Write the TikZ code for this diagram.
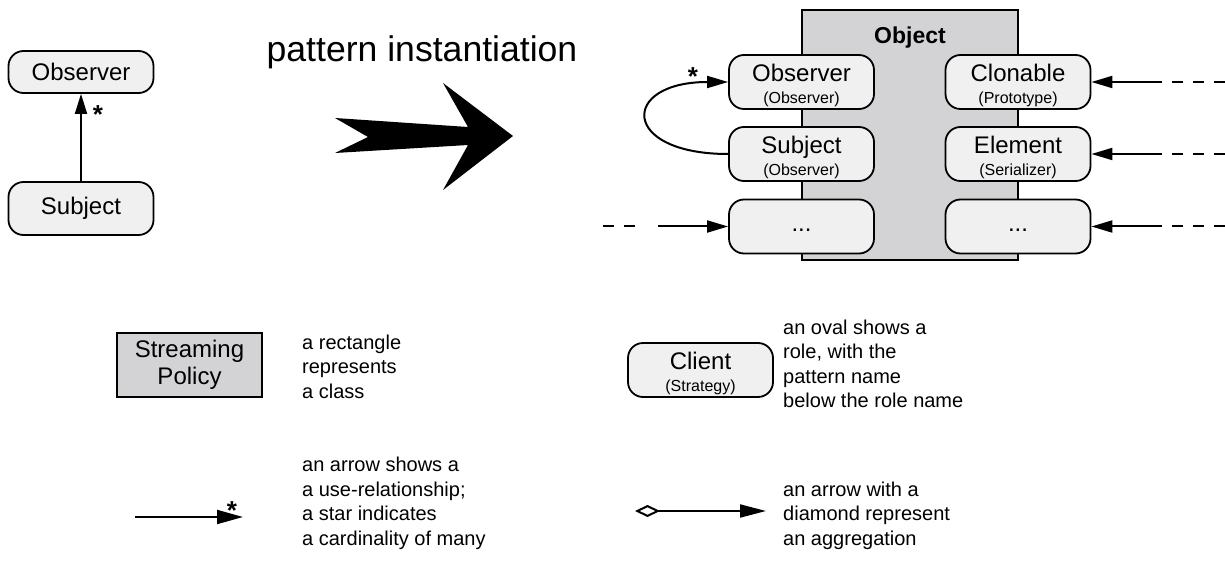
\documentclass[tikz,border=0pt]{standalone}
\usepackage{fontspec}
\setmainfont{Liberation Sans}
\usetikzlibrary{arrows.meta}
\definecolor{rolefill}{RGB}{240,240,241}
\definecolor{classfill}{RGB}{211,211,213}
\tikzset{
  role/.style={draw, line width=1.8pt, rounded corners=15pt, fill=rolefill,
    minimum width=145pt, minimum height=54pt, align=center, inner sep=0pt,
    font=\fontsize{24}{22}\selectfont},
  classbox/.style={draw, line width=1.8pt, fill=classfill, inner sep=0pt},
  conn/.style={line width=2pt, -{Triangle[length=21pt,width=12pt]}},
  dashline/.style={line width=2pt, dash pattern=on 11pt off 10pt},
  legend/.style={align=left, anchor=west, inner sep=0pt,
    font=\fontsize{20}{24.5}\selectfont},
  starlbl/.style={anchor=base, inner sep=0pt, font=\fontsize{26}{26}\selectfont\bfseries},
}
\newcommand{\subl}[1]{{\fontsize{16}{22}\selectfont #1}}
\newcommand{\topstrut}{\rule{0pt}{23.4pt}}
\newcommand{\etcdots}{\raisebox{-5pt}[0pt][0pt]{...}}
\begin{document}
\begin{tikzpicture}[x=1pt,y=-1pt]
\useasboundingbox (0,0) rectangle (1225,569);

% left pattern
\node[role, minimum height=42pt] (obsL) at (81,72) {Observer};
\node[role, minimum height=53pt] (subjL) at (81,208.5) {Subject};
\draw[conn, -{Triangle[length=20pt,width=12pt]}] (subjL) -- (obsL);
\node[starlbl] (starL) at (98,124) {*};

% title
\node[inner sep=0pt, font=\fontsize{35.6}{40}\selectfont] (title) at (422,52) {pattern instantiation};

% big arrow
\fill (335,118) -- (368,137) -- (335,153) -- (468,145) -- (443,190) -- (513,136)
  -- (443,83) -- (468,127) -- cycle;

% Object class
\node[classbox, minimum width=216pt, minimum height=250pt] (obj) at (910,135) {};
\node[inner sep=0pt, font=\fontsize{23}{23}\selectfont\bfseries] (objlbl) at (910,38) {Object};

% roles
\node[role] (ro1) at (801.5,82) {\topstrut Observer\\\subl{(Observer)}};
\node[role] (ro2) at (801.5,154) {\topstrut Subject\\\subl{(Observer)}};
\node[role] (ro3) at (801.5,226.5) {\etcdots};
\node[role] (rc1) at (1018,82) {\topstrut Clonable\\\subl{(Prototype)}};
\node[role] (rc2) at (1018,154) {\topstrut Element\\\subl{(Serializer)}};
\node[role] (rc3) at (1018,226.5) {\etcdots};

% self use curve
\draw[conn] (ro2.west) .. controls (620,154) and (620,82) .. (ro1.west);
\node[starlbl] (starR) at (693,86) {*};

% dashed incoming arrows
\coordinate (l0) at (603,226.5);
\coordinate (l1) at (637,226.5);
\coordinate (l2) at (658,226.5);
\draw[dashline] (l0) -- (l1);
\draw[conn] (l2) -- (ro3.west);
\foreach \n/\y in {1/82,2/154,3/226.5}{
  \coordinate (r0\n) at (1225,\y);
  \coordinate (r1\n) at (1162,\y);
}
\draw[dashline] (r01) -- (r11);
\draw[dashline] (r02) -- (r12);
\draw[dashline] (r03) -- (r13);
\draw[conn] (r11) -- (rc1.east);
\draw[conn] (r12) -- (rc2.east);
\draw[conn] (r13) -- (rc3.east);

% legend
\node[classbox, minimum width=145pt, minimum height=64pt, align=center,
  font=\fontsize{24}{27}\selectfont] (sp) at (189.5,365) {Streaming\\Policy};
\node[legend] (t1) at (302,366.5) {a rectangle\\represents\\a class};

\node[role] (client) at (700.5,370) {\topstrut Client\\\subl{(Strategy)}};
\node[legend] (t2) at (783,364) {an oval shows a\\role, with the\\pattern name\\below the role name};

\coordinate (ua1) at (135,517);
\coordinate (ua2) at (243,517);
\draw[line width=2pt, -{Triangle[length=26pt,width=14pt]}] (ua1) -- (ua2);
\node[starlbl] (starU) at (232,519) {*};
\node[legend] (t3) at (302,503.5) {an arrow shows a\\a use-relationship;\\a star indicates\\a cardinality of many};

\coordinate (ag1) at (635,511);
\coordinate (ag2) at (766,511);
\draw[line width=2pt, {Diamond[open,length=25pt,width=12pt]}-{Triangle[length=26pt,width=13pt]}] (ag1) -- (ag2);
\node[legend] (t4) at (783,515.5) {an arrow with a\\diamond represent\\an aggregation};
\end{tikzpicture}
\end{document}
